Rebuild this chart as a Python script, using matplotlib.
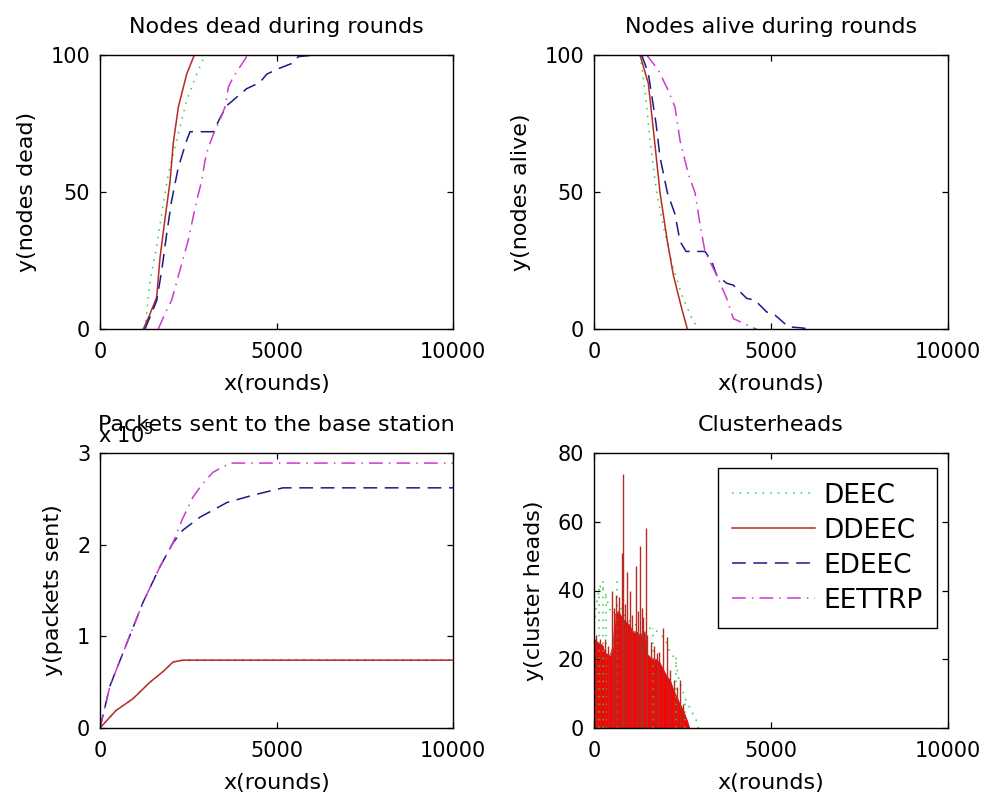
import matplotlib
matplotlib.use("Agg")
import matplotlib.pyplot as plt
from matplotlib.ticker import FuncFormatter

plt.rcParams['font.family'] = ['DejaVu Sans']

# ---------------- data ----------------
# Nodes dead during rounds
dead_deec_x = [1275, 1417, 1605, 1747, 1936, 2172, 2455, 2739, 2975]
dead_deec_y = [0, 17.6, 29.8, 42, 56.6, 68.8, 83.5, 93, 100]
dead_ddeec_x = [1227, 1400, 1605, 1700, 1842, 1983, 2077, 2219, 2455, 2672]
dead_ddeec_y = [0, 5, 11.5, 26, 40.3, 53.7, 68, 81, 93, 100]
dead_edeec_x = [1275, 1605, 1747, 1889, 2030, 2219, 2455, 2549, 3211, 3400, 3589, 3872,
                4155, 4533, 4722, 5052, 5430, 5619, 6091]
dead_edeec_y = [0, 10.3, 21.2, 34.7, 46.9, 59, 68.8, 72, 72, 77, 81.5, 84.6,
                87.7, 90, 93, 95, 96.9, 99.4, 100]
dead_eettrp_x = [1650, 1842, 2030, 2266, 2502, 2738, 2880, 2975, 3069, 3211, 3353, 3542,
                 3636, 3778, 3967, 4155, 4438]
dead_eettrp_y = [0, 5.6, 10.5, 21.5, 32.5, 46.9, 54, 61.5, 66.3, 71, 75, 81,
                 88.3, 92, 95.7, 99.4, 100]

# Nodes alive during rounds
alive_deec_x = [1300, 1441, 1582, 1770, 2006, 2241, 2477, 2760, 2948]
alive_deec_y = [100, 87, 68.8, 49.8, 34.6, 22.3, 12.5, 4, 0]
alive_ddeec_x = [1300, 1535, 1658, 1865, 2072, 2241, 2477, 2637]
alive_ddeec_y = [100, 89.6, 75, 49.8, 32, 19.7, 7.5, 0]
alive_edeec_x = [1347, 1535, 1752, 1865, 2072, 2288, 2430, 2599, 3135, 3323, 3464,
                 3747, 3935, 4313, 4548, 4878, 5067, 5490, 5867, 6102]
alive_edeec_y = [100, 93.3, 75, 62.7, 49.8, 41.9, 32, 28.3, 28.3, 24.8, 19.7,
                 16.7, 16, 11.2, 10.5, 6.2, 5.6, 0.8, 0.4, 0]
alive_eettrp_x = [1488, 1818, 2100, 2288, 2430, 2665, 2853, 2994, 3135, 3464,
                  3747, 3935, 4500, 4595]
alive_eettrp_y = [100, 94.5, 87, 81, 68.8, 56.5, 49.8, 38.2, 28.3, 19.7,
                  11.2, 3.8, 0.4, 0]

# Packets sent to the base station
pk_deec_x = [0, 450, 935, 1416, 1800, 2068, 2400, 10000]
pk_deec_y = [0, 19000, 32000, 50000, 62000, 72000, 74500, 74500]
pk_ddeec_x = [0, 450, 935, 1416, 1800, 2068, 2351, 10000]
pk_ddeec_y = [0, 19000, 32000, 50000, 62000, 72000, 74000, 74000]
pk_edeec_x = [0, 283, 765, 1218, 1700, 2068, 2351, 2833, 3598, 4334, 5184, 10000]
pk_edeec_y = [0, 46000, 93000, 137000, 176000, 202000, 216000, 230000, 246000,
              254000, 262000, 262000]
pk_eettrp_x = [0, 283, 765, 1218, 1700, 2068, 2323, 2635, 2918, 3201, 3683, 10000]
pk_eettrp_y = [0, 46000, 93000, 137000, 176000, 202000, 227000, 252000, 267000,
               279000, 289000, 289000]

# Clusterheads (envelopes and spikes)
ch_ddeec_x = [0, 100, 250, 300, 450, 540, 600, 700, 790, 900, 1000, 1100, 1200, 1300,
              1440, 1460, 1550, 1640, 1750, 1860, 1960, 2060, 2150, 2250, 2340, 2430,
              2530, 2640, 2700]
ch_ddeec_y = [26, 25, 24, 22, 21, 24, 33, 34, 32, 31, 30, 28, 28, 27,
              28, 22, 21, 20, 20, 19, 17, 15, 14, 11, 9, 7, 5, 2, 0]
ch_ddeec_spike_x = [60, 180, 300, 400, 499, 560, 621, 700, 780, 829, 870, 942, 1017,
                    1080, 1177, 1240, 1300, 1350, 1394, 1460, 1500, 1600, 1700, 1770,
                    1850, 1959, 2053, 2150, 2250, 2340, 2430, 2520]
ch_ddeec_spike_y = [27, 26, 26, 24, 40, 35, 38.7, 38, 51, 74, 36, 45.4, 40,
                    33, 47, 34, 53, 35, 32.4, 58.2, 27, 25, 24, 21.8,
                    22, 29, 26.5, 17, 14, 12, 14, 7]
ch_deec_x = [0, 100, 200, 300, 400, 500, 600, 700, 900, 1100, 1300, 1500, 1650, 1800,
             2000, 2150, 2300, 2400, 2500, 2600, 2700, 2800, 2900, 2950]
ch_deec_y = [30, 38, 42, 40, 36, 33, 35, 36, 32, 30, 30, 29, 29, 28,
             26, 22, 20, 14, 11, 8, 6, 4, 2, 0]
ch_deec_spike_x = [150, 250, 350, 650, 1680, 2330, 2570]
ch_deec_spike_y = [42, 44, 40, 43, 29, 21, 9]
ch_edeec_x, ch_edeec_y = [], []
ch_eettrp_x, ch_eettrp_y = [], []

labels = ['DEEC', 'DDEEC', 'EDEEC', 'EETTRP']

# ---------------- styles ----------------
C_G = '#33cc44'
C_R = '#b82a22'
C_B = '#1a1a8c'
C_M = '#cc3ccc'
LW = 1.1
sty = {
    'DEEC': dict(color=C_G, lw=LW, linestyle=(0, (1, 4))),
    'DDEEC': dict(color=C_R, lw=LW, linestyle='-'),
    'EDEEC': dict(color=C_B, lw=LW, linestyle=(0, (9, 5))),
    'EETTRP': dict(color=C_M, lw=LW, linestyle=(0, (9, 4, 1, 4))),
}

fig = plt.figure(figsize=(9.86, 7.98), dpi=100)
W, H = 986, 798


def mk_ax(l, t, r, b):
    return fig.add_axes([l / W, 1 - b / H, (r - l) / W, (b - t) / H])


axs = [mk_ax(100, 55, 453, 329), mk_ax(594, 55, 948, 329),
       mk_ax(100, 453, 453, 728), mk_ax(594, 453, 948, 728)]

for ax in axs:
    ax.set_xlim(0, 10000)
    ax.set_xticks([0, 5000, 10000])
    ax.tick_params(direction='in', top=True, right=True, length=4, width=0.9,
                   labelsize=15)
    ax.tick_params(axis='x', pad=9.5)
    ax.tick_params(axis='y', pad=7)
    for s in ax.spines.values():
        s.set_linewidth(1.0)
    ax.set_xlabel('x(rounds)', fontsize=16, labelpad=8.5)

# dead
ax = axs[0]
ax.plot(dead_deec_x, dead_deec_y, **sty['DEEC'])
ax.plot(dead_ddeec_x, dead_ddeec_y, **sty['DDEEC'])
ax.plot(dead_edeec_x, dead_edeec_y, **sty['EDEEC'])
ax.plot(dead_eettrp_x, dead_eettrp_y, **sty['EETTRP'])
ax.set_ylim(0, 100)
ax.set_yticks([0, 50, 100])
ax.set_title('Nodes dead during rounds', fontsize=16, y=1.0, pad=15.5)
ax.set_ylabel('y(nodes dead)', fontsize=16, labelpad=10)

# alive
ax = axs[1]
ax.plot(alive_deec_x, alive_deec_y, **sty['DEEC'])
ax.plot(alive_ddeec_x, alive_ddeec_y, **sty['DDEEC'])
ax.plot(alive_edeec_x, alive_edeec_y, **sty['EDEEC'])
ax.plot(alive_eettrp_x, alive_eettrp_y, **sty['EETTRP'])
ax.set_ylim(0, 100)
ax.set_yticks([0, 50, 100])
ax.set_title('Nodes alive during rounds', fontsize=16, y=1.0, pad=15.5)
ax.set_ylabel('y(nodes alive)', fontsize=16, labelpad=10)

# packets
ax = axs[2]
ax.plot(pk_deec_x, pk_deec_y, **sty['DEEC'])
ax.plot(pk_ddeec_x, pk_ddeec_y, **sty['DDEEC'])
ax.plot(pk_edeec_x, pk_edeec_y, **sty['EDEEC'])
ax.plot(pk_eettrp_x, pk_eettrp_y, **sty['EETTRP'])
ax.set_ylim(0, 300000)
ax.set_yticks([0, 100000, 200000, 300000])
ax.yaxis.set_major_formatter(FuncFormatter(lambda v, p: f'{v / 1e5:g}'))
ax.set_title('Packets sent to the base station', fontsize=16, y=1.0, pad=15.5)
ax.text(-0.006, 1.035, r'x 10$^{5}$', transform=ax.transAxes, fontsize=15,
        ha='left', va='baseline')
ax.set_ylabel('y(packets sent)', fontsize=16, labelpad=10)

# clusterheads
ax = axs[3]
ax.plot(ch_deec_x, ch_deec_y, **sty['DEEC'])
ax.vlines(ch_deec_spike_x, 0, ch_deec_spike_y, colors=C_G, lw=LW,
          linestyles=[(0, (1, 4))])
ax.fill_between(ch_ddeec_x, 0, ch_ddeec_y, color='#ff0000', lw=0)
ax.plot(ch_ddeec_x, ch_ddeec_y, color=C_R, lw=0.6)
ax.vlines(ch_ddeec_spike_x, 0, ch_ddeec_spike_y, colors=C_R, lw=1.0)
ax.plot(ch_edeec_x, ch_edeec_y, **sty['EDEEC'])
ax.plot(ch_eettrp_x, ch_eettrp_y, **sty['EETTRP'])
ax.set_ylim(0, 80)
ax.set_yticks([0, 20, 40, 60, 80])
ax.set_title('Clusterheads', fontsize=16, y=1.0, pad=15.5)
ax.set_ylabel('y(cluster heads)', fontsize=16, labelpad=10)

handles = [plt.Line2D([], [], **sty[k]) for k in labels]
leg = ax.legend(handles, labels, loc='upper right', bbox_to_anchor=(0.969, 0.945),
                borderaxespad=0, fontsize=19, fancybox=False, framealpha=1,
                edgecolor='black', handlelength=3.15, handletextpad=0.3,
                labelspacing=0.34, borderpad=0.55)
leg.get_frame().set_linewidth(1.0)

fig.savefig('out.png', dpi=100)
